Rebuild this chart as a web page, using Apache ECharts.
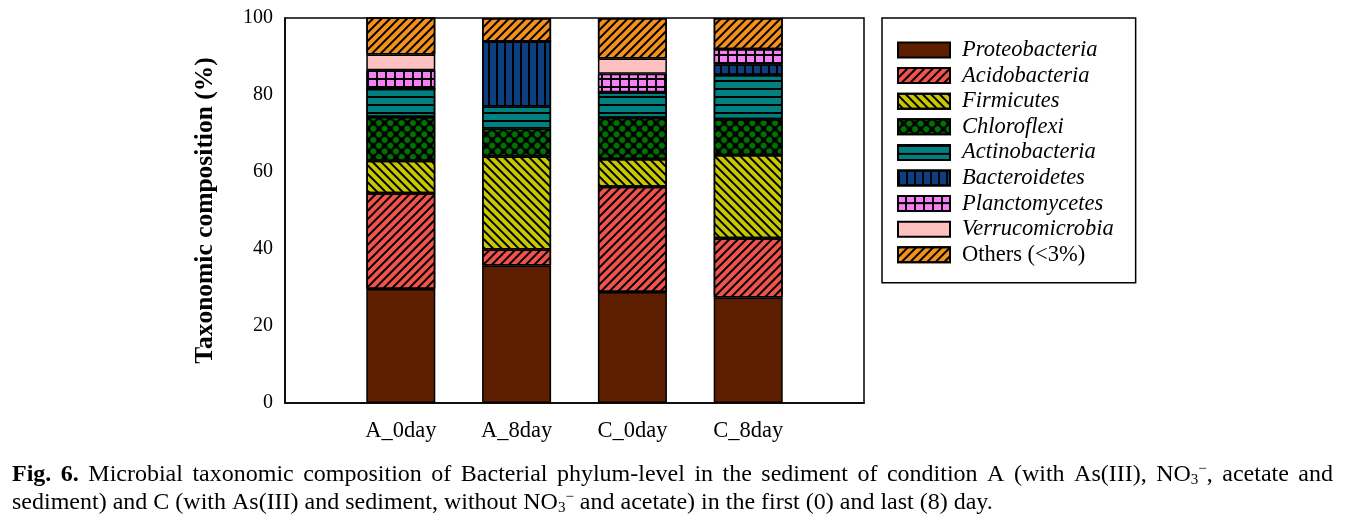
<!DOCTYPE html>
<html><head><meta charset="utf-8">
<script src="https://cdn.jsdelivr.net/npm/echarts@6/dist/echarts.min.js"></script>
<style>html,body{margin:0;padding:0;background:#fff}#c{width:1346px;height:526px}</style>
</head><body><div id="c"></div>
<script>
// ---------- data ----------
const categories = ['A_0day', 'A_8day', 'C_0day', 'C_8day'];
const phyla = ['Proteobacteria', 'Acidobacteria', 'Firmicutes', 'Chloroflexi', 'Actinobacteria',
  'Bacteroidetes', 'Planctomycetes', 'Verrucomicrobia', 'Others (<3%)'];
const proteobacteria  = [29.6, 35.7, 28.8, 27.4];
const acidobacteria   = [24.9,  4.2, 27.4, 15.4];
const firmicutes      = [ 8.4, 24.1,  7.2, 21.6];
const chloroflexi     = [11.4,  7.3, 10.7,  9.3];
const actinobacteria  = [ 7.3,  5.7,  6.6, 11.5];
const bacteroidetes   = [ 0.0, 16.9,  0.0,  2.7];
const planctomycetes  = [ 4.8,  0.0,  4.8,  4.0];
const verrucomicrobia = [ 4.1,  0.0,  4.0,  0.0];
const others          = [ 9.6,  6.1, 10.5,  8.1];
const yTicks = [0, 20, 40, 60, 80, 100];
const yAxisTitle = 'Taxonomic composition (%)';

const seriesValues = [proteobacteria, acidobacteria, firmicutes, chloroflexi, actinobacteria,
  bacteroidetes, planctomycetes, verrucomicrobia, others];

// ---------- styles ----------
const SERIF = '"Liberation Serif", "Times New Roman", serif';
const stripe = (rot, on, off) => ({ symbol: 'rect', symbolSize: 1, color: '#000',
  dashArrayX: [1, 0], dashArrayY: [on, off], rotation: rot });
const styles = [
  { color: '#5e1f00' },
  { color: '#f0524c', decal: stripe(-Math.PI / 4, 1.5, 3.2) },
  { color: '#c8c800', decal: stripe(Math.PI / 4, 2, 3.4) },
  { color: '#000000', decal: { symbol: 'circle', symbolSize: 1, color: '#007400',
      dashArrayX: [5.4, 1.1], dashArrayY: [5.4, 1.1], rotation: Math.PI / 4 } },
  { color: '#008080', decal: { symbol: 'rect', symbolSize: 1, color: '#000',
      dashArrayX: [1, 0], dashArrayY: [2, 6] } },
  { color: '#0b3f80', decal: { symbol: 'rect', symbolSize: 1, color: '#000',
      dashArrayX: [2, 6], dashArrayY: [1, 0] } },
  { color: '#000000', decal: { symbol: 'rect', symbolSize: 1, color: '#f77ff5',
      dashArrayX: [6.5, 1.5], dashArrayY: [5.5, 1.5] } },
  { color: '#ffc0c0' },
  { color: '#f4901c', decal: stripe(-Math.PI / 4, 1.5, 3.2) }
];

const pad = arr => [null, ...arr, null];

const series = phyla.map((name, i) => ({
  name, type: 'bar', stack: 'total', barWidth: 69,
  data: pad(seriesValues[i]),
  itemStyle: Object.assign({ borderColor: '#000', borderWidth: 1.5 }, styles[i]),
  emphasis: { disabled: true }
}));

// ---------- caption (justified first line) ----------
const capSize = 24, subSize = 15;
const fontFor = s => (s === 'b' ? 'bold ' : '') + ((s === 'sub' || s === 'sup') ? subSize : capSize) + 'px ' + SERIF;
const mctx = document.createElement('canvas').getContext('2d');
const mw = (s, t) => { mctx.font = fontFor(s); return mctx.measureText(t).width; };

const line1Words = [
  [['b', 'Fig.']], [['b', '6.']], [['n', 'Microbial']], [['n', 'taxonomic']], [['n', 'composition']],
  [['n', 'of']], [['n', 'Bacterial']], [['n', 'phylum-level']], [['n', 'in']], [['n', 'the']],
  [['n', 'sediment']], [['n', 'of']], [['n', 'condition']], [['n', 'A']], [['n', '(with']],
  [['n', 'As(III),']], [['n', 'NO'], ['sub', '3'], ['sup', '\u2212'], ['n', ',']],
  [['n', 'acetate']], [['n', 'and']]
];
const capLeft = 12, capRight = 1333;
let natural = 0;
line1Words.forEach(w => w.forEach(([s, t]) => { natural += mw(s, t); }));
const gap = Math.max(3, (capRight - capLeft - natural) / (line1Words.length - 1));
const line1 = line1Words.map(w => w.map(([s, t]) => '{' + s + '|' + t + '}').join('')).join('{s| }');
const line2 = '{n|sediment) and C (with As(III) and sediment, without NO}{sub|3}{sup|\u2212}{n| and acetate) in the first (0) and last (8) day.}';
const capRich = {
  b: { fontFamily: SERIF, fontSize: capSize, fontWeight: 'bold', lineHeight: 26, fill: '#000' },
  n: { fontFamily: SERIF, fontSize: capSize, lineHeight: 26, fill: '#000' },
  sub: { fontFamily: SERIF, fontSize: subSize, lineHeight: 13, verticalAlign: 'bottom', fill: '#000' },
  sup: { fontFamily: SERIF, fontSize: subSize, lineHeight: 17, verticalAlign: 'top', fill: '#000' },
  s: { width: gap, fontSize: capSize, lineHeight: 26 }
};

// ---------- chart ----------
const chart = echarts.init(document.getElementById('c'), null, { renderer: 'canvas' });
chart.setOption({
  animation: false,
  backgroundColor: '#fff',
  grid: { left: 285, right: 482, top: 18, bottom: 123, show: true, borderColor: '#000', borderWidth: 1.5, containLabel: false },
  xAxis: {
    type: 'category', data: pad(categories).map(c => c || ''), boundaryGap: false,
    axisLine: { lineStyle: { color: '#000', width: 1.5 } },
    axisTick: { show: false },
    axisLabel: { interval: 0, color: '#000', fontSize: 22.5, fontFamily: SERIF, margin: 17 },
    splitLine: { show: false }
  },
  yAxis: {
    type: 'value', min: yTicks[0], max: yTicks[yTicks.length - 1], interval: yTicks[1] - yTicks[0],
    name: yAxisTitle, nameLocation: 'middle', nameGap: 67,
    nameTextStyle: { color: '#000', fontSize: 25.5, fontWeight: 'bold', fontFamily: SERIF },
    axisLine: { show: true, lineStyle: { color: '#000', width: 1.5 } },
    axisTick: { show: false },
    axisLabel: { color: '#000', fontSize: 20, fontFamily: SERIF, margin: 12 },
    splitLine: { show: false }
  },
  legend: {
    orient: 'vertical', left: 882, top: 18,
    padding: [20.5, 22, 16.5, 15],
    borderColor: '#000', borderWidth: 1.5,
    icon: 'rect', itemWidth: 52, itemHeight: 15, itemGap: 2.6,
    selectedMode: false,
    data: phyla,
    formatter: name => (name.startsWith('Others') ? '{n|' : '{i|') + name + '}',
    textStyle: {
      color: '#000',
      rich: {
        i: { fontFamily: SERIF, fontSize: 22.5, fontStyle: 'italic', lineHeight: 24, padding: [0, 0, 0, 7] },
        n: { fontFamily: SERIF, fontSize: 22.5, lineHeight: 24, padding: [0, 0, 0, 7] }
      }
    }
  },
  graphic: [
    { type: 'text', silent: true, style: { x: capLeft, y: 475, verticalAlign: 'middle', text: line1, rich: capRich } },
    { type: 'text', silent: true, style: { x: capLeft, y: 503, verticalAlign: 'middle', text: line2, rich: capRich } }
  ],
  series
});
</script>
</body></html>
